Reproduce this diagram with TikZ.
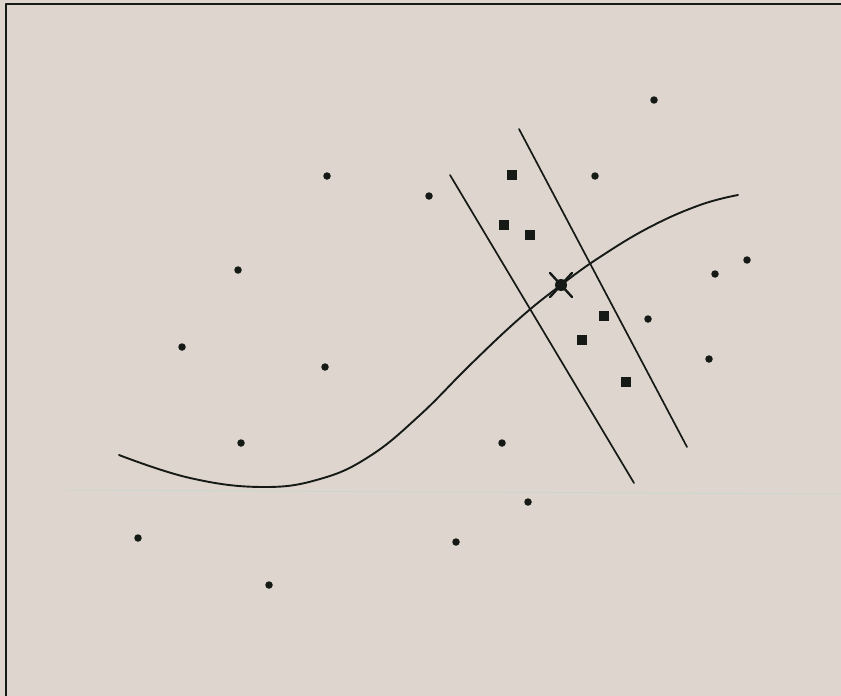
\documentclass[tikz,border=0pt]{standalone}
\usepackage{xcolor}
\usetikzlibrary{calc}
\definecolor{paper}{RGB}{222,214,206}
\definecolor{ink}{RGB}{22,26,22}
\definecolor{scanline}{RGB}{205,214,204}
\tikzset{
  dotv/.style={circle, fill=ink, inner sep=0pt, minimum size=7.5pt},
  sqv/.style={rectangle, fill=ink, inner sep=0pt, minimum size=10.5pt},
  every picture/.style={line cap=round, line join=round}
}

\begin{document}
\begin{tikzpicture}[x=1pt, y=-1pt]
  \fill[paper] (0,0) rectangle (841,696);
  \useasboundingbox (0,0) rectangle (841,696);

  % frame
  \draw[ink, line width=2pt] (6,696) -- (6,4) -- (841,4);
  \draw[scanline, line width=1pt] (65,490) -- (841,494);

  % points
  \node[dotv] (p1) at (654,100) {};
  \node[dotv] (p2) at (327,176) {};
  \node[dotv] (p3) at (429,196) {};
  \node[dotv] (p4) at (595,176) {};
  \node[dotv] (p5) at (238,270) {};
  \node[dotv] (p6) at (715,274) {};
  \node[dotv] (p7) at (747,260) {};
  \node[dotv] (p8) at (182,347) {};
  \node[dotv] (p9) at (325,367) {};
  \node[dotv] (p10) at (648,319) {};
  \node[dotv] (p11) at (709,359) {};
  \node[dotv] (p12) at (241,443) {};
  \node[dotv] (p13) at (502,443) {};
  \node[dotv] (p14) at (528,502) {};
  \node[dotv] (p15) at (138,538) {};
  \node[dotv] (p16) at (456,542) {};
  \node[dotv] (p17) at (269,585) {};

  % support points
  \node[sqv] (s1) at (512,175) {};
  \node[sqv] (s2) at (504,225) {};
  \node[sqv] (s3) at (530,235) {};
  \node[sqv] (s4) at (604,316) {};
  \node[sqv] (s5) at (582,340) {};
  \node[sqv] (s6) at (626,382) {};

  % margin lines
  \coordinate (la) at (450,175);
  \coordinate (lb) at (634,483);
  \coordinate (ra) at (519,129);
  \coordinate (rb) at (687,447);
  \draw[ink, line width=1.7pt] (la) -- (lb);
  \draw[ink, line width=1.7pt] (ra) -- (rb);

  % curve
  \draw[ink, line width=1.9pt] plot[smooth, tension=0.7] coordinates {
    (119,455) (190,478) (262,487) (320,479) (370,456) (420,415)
    (470,365) (520,318) (561,285) (600,257) (650,227) (700,205) (738,195)};

  % marked point
  \coordinate (m) at (561,285);
  \fill[ink] (m) circle (6pt);
  \draw[ink, line width=2.4pt] ($(m)+(-11,-12)$) -- ($(m)+(11,12)$);
  \draw[ink, line width=2.4pt] ($(m)+(11,-12)$) -- ($(m)+(-11,12)$);
\end{tikzpicture}
\end{document}
